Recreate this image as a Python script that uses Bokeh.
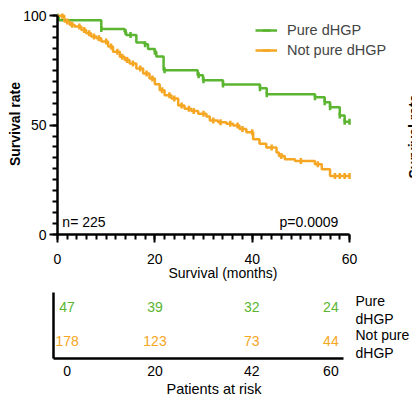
import numpy as np
from bokeh.plotting import figure
from bokeh.models import (Range1d, Legend, LegendItem, Label, FixedTicker, ColumnDataSource,
                          LinearAxis, Title)
from bokeh.embed import file_html
from bokeh.resources import INLINE
from bokeh.core.properties import value

# ---------------- data ----------------
pure_t = [0, 0.3, 9.0, 13.8, 14.1, 16.2, 17.9, 18.6, 20.0, 20.3, 21.8, 28.8, 29.9, 34.0,
          41.6, 43.0, 52.9, 54.9, 56.0, 58.0, 59.0, 60.0]
pure_s = [100, 97.9, 93.9, 92.5, 91.2, 87.7, 86.9, 84.8, 83.5, 81.3, 75.1, 72.8, 70.5, 68.5,
          66.8, 64.1, 62.7, 60.4, 58.1, 54.4, 51.5, 51.5]
pure_cens = [0, 9, 14, 15, 18, 20, 22, 29, 30, 34, 41.6, 43, 52.9, 54.9, 56, 58, 59, 60]

notpure_t = [0, 1.4, 2.5, 3.5, 4.9, 5.9, 6.9, 8.0, 9.0, 10.4, 11.4, 12.8, 13.8, 14.8, 16.2,
             17.6, 18.9, 20.0, 21.0, 22.0, 23.4, 24.8, 26.1, 27.5, 28.9, 30.6, 31.3, 33.0,
             34.7, 36.1, 37.4, 38.8, 40.2, 41.5, 42.9, 45.0, 45.5, 46.7, 48.8, 52.9, 54.3,
             56.0, 60.0]
notpure_s = [100, 97.4, 95.9, 95.1, 93.5, 92.0, 90.5, 89.7, 88.2, 85.9, 83.5, 81.2, 79.7,
             78.2, 75.9, 73.6, 71.3, 68.7, 65.9, 63.6, 62.1, 59.0, 57.5, 56.4, 55.2, 53.9,
             52.1, 51.3, 50.6, 49.8, 48.2, 46.7, 43.5, 41.5, 39.8, 37.5, 35.9, 34.4, 33.6,
             32.1, 29.8, 26.7, 26.7]
notpure_cens = [1, 2, 3, 4.5, 5.5, 6.5, 7.5, 8.5, 10, 11, 12.3, 13.3, 14.3, 15.5, 17, 18.3,
                19.5, 21.5, 23, 24, 25.5, 27, 28, 30, 32, 33.5, 35.5, 37, 38, 40, 44, 46,
                50, 53.5, 57, 58, 59, 60]

groups = ["Pure dHGP", "Not pure dHGP"]
group_lines = [["Pure", "dHGP"], ["Not pure", "dHGP"]]
risk_times = [0, 20, 42, 60]
risk_pure = [47, 39, 32, 24]
risk_notpure = [178, 123, 73, 44]

GREEN = "#5BB531"
ORANGE = "#F5A623"
FONT = "Liberation Sans"


def surv_at(times, surv, pts):
    idx = np.searchsorted(np.array(times), np.array(pts), side="right") - 1
    return list(np.array(surv)[idx])


# ---------------- main KM plot ----------------
# frame runs to the right edge so the legend (which overhangs the axis end) is not clipped
p = figure(width=412, height=288, x_range=Range1d(0, 72.94), y_range=Range1d(0, 101),
           output_backend="svg", toolbar_location=None,
           min_border_left=57, min_border_right=0, min_border_top=13, min_border_bottom=54)
p.grid.visible = False
p.outline_line_color = None

l_pure = p.step(pure_t, pure_s, mode="after", line_color=GREEN, line_width=2.5)
c_pure = p.scatter(pure_cens, surv_at(pure_t, pure_s, pure_cens), marker="dash", angle=np.pi / 2,
                   size=6, line_color=GREEN, line_width=2.5)
l_np = p.step(notpure_t, notpure_s, mode="after", line_color=ORANGE, line_width=2.5)
c_np = p.scatter(notpure_cens, surv_at(notpure_t, notpure_s, notpure_cens), marker="dash",
                 angle=np.pi / 2, size=6, line_color=ORANGE, line_width=2.5)

for ax in (p.xaxis[0], p.yaxis[0]):
    ax.axis_line_width = 2.5
    ax.axis_line_color = "black"
    ax.major_tick_line_width = 2
    ax.minor_tick_line_width = 2
    ax.major_tick_in = 0
    ax.minor_tick_in = 0
    ax.major_tick_out = 8
    ax.minor_tick_out = 5
    ax.major_label_text_font = FONT
    ax.major_label_text_font_size = "14px"
    ax.major_label_text_color = "black"
    ax.axis_label_text_font = FONT
    ax.axis_label_text_font_size = "14px"
    ax.axis_label_text_color = "black"

p.xaxis.ticker = FixedTicker(ticks=[0, 20, 40, 60], minor_ticks=list(range(0, 61, 2)))
p.yaxis.ticker = FixedTicker(ticks=[0, 50, 100], minor_ticks=list(range(0, 101, 5)))
p.xaxis.bounds = (0, 60)
p.yaxis.bounds = (0, 100)
p.xaxis.major_label_standoff = 11
p.yaxis.major_label_standoff = 3
p.yaxis.axis_label = "Survival rate"
p.yaxis.axis_label_standoff = -3
p.yaxis.axis_label_text_font_style = "bold"

# x-axis title centred under the 0-60 axis (not under the wider frame)
p.add_layout(Title(text="Survival (months)", align="left", offset=111, standoff=-8,
                   text_font=FONT, text_font_size="14px", text_font_style="normal",
                   text_color="black"), "below")

# partially visible label of the neighbouring panel at the right edge
p.add_layout(Label(x=73.35, y=44.8, text="Survival rate", angle=np.pi / 2, text_align="center",
                   text_baseline="middle", text_font=FONT, text_font_size="14px",
                   text_font_style="bold", text_color="black"))
p.add_layout(Label(x=1.0, y=5.5, text="n= 225", text_align="left", text_baseline="middle",
                   text_font=FONT, text_font_size="14px", text_color="black"))
p.add_layout(Label(x=57.7, y=5.5, text="p=0.0009", text_align="right", text_baseline="middle",
                   text_font=FONT, text_font_size="14px", text_color="black"))

legend = Legend(items=[LegendItem(label=groups[0], renderers=[l_pure, c_pure]),
                       LegendItem(label=groups[1], renderers=[l_np, c_np])],
                location=(198, 174), padding=0, spacing=-4, margin=0,
                glyph_width=22, glyph_height=20, label_height=20, label_standoff=10,
                label_text_font=FONT, label_text_font_size="14.5px",
                background_fill_alpha=0, border_line_alpha=0)
p.add_layout(legend)

# ---------------- at-risk table ----------------
row_y = {g: len(groups) - 1 - i + 0.5 for i, g in enumerate(groups)}
src = ColumnDataSource(dict(t=risk_times, pure=[str(v) for v in risk_pure],
                            notpure=[str(v) for v in risk_notpure],
                            yp=[row_y[groups[0]]] * len(risk_times),
                            yn=[row_y[groups[1]]] * len(risk_times)))

q = figure(width=412, height=112, x_range=Range1d(-3.09, 62.87), y_range=Range1d(-0.02, 1.92),
           output_backend="svg", toolbar_location=None,
           min_border_left=53, min_border_right=60, min_border_top=4, min_border_bottom=42)
q.grid.visible = False
q.outline_line_color = None

q.text(x="t", y="yp", text="pure", source=src, text_align="center", text_baseline="middle",
       text_font=value(FONT), text_font_size="14px", text_color=GREEN)
q.text(x="t", y="yn", text="notpure", source=src, text_align="center", text_baseline="middle",
       text_font=value(FONT), text_font_size="14px", text_color=ORANGE)

ya = q.yaxis[0]
ya.ticker = FixedTicker(ticks=[])
ya.axis_line_width = 2.5
ya.axis_line_color = "black"
ya.major_tick_line_color = None
ya.minor_tick_line_color = None

bx = q.xaxis[0]
bx.ticker = FixedTicker(ticks=risk_times)
bx.axis_line_width = 2.5
bx.axis_line_color = "black"
bx.major_tick_line_color = None
bx.minor_tick_line_color = None
bx.major_label_standoff = 1
bx.major_label_text_font = FONT
bx.major_label_text_font_size = "14px"
bx.major_label_text_color = "black"

# group names, two lines each, as tick labels of a right-hand axis
PX = 34.0  # pixels per row unit
name_ticks, name_over = [], {}
for g, lines in zip(groups, group_lines):
    for k, line in enumerate(lines):
        yv = round(row_y[g] + (6 - 18 * k) / PX, 3)
        name_ticks.append(yv)
        name_over[yv] = line
ra = LinearAxis(ticker=FixedTicker(ticks=name_ticks), major_label_overrides=name_over,
                axis_line_color=None, major_tick_line_color=None, minor_tick_line_color=None,
                major_label_standoff=6, major_label_text_font=FONT,
                major_label_text_font_size="14px", major_label_text_color="black")
q.add_layout(ra, "right")

q.add_layout(Title(text="Patients at risk", align="left", offset=113, standoff=0,
                   text_font=FONT, text_font_size="14.5px", text_font_style="normal",
                   text_color="black"), "below")

# two separate roots (stacked), so the plots' borders are not aligned to each other
open("out.html", "w").write(file_html([p, q], INLINE))
